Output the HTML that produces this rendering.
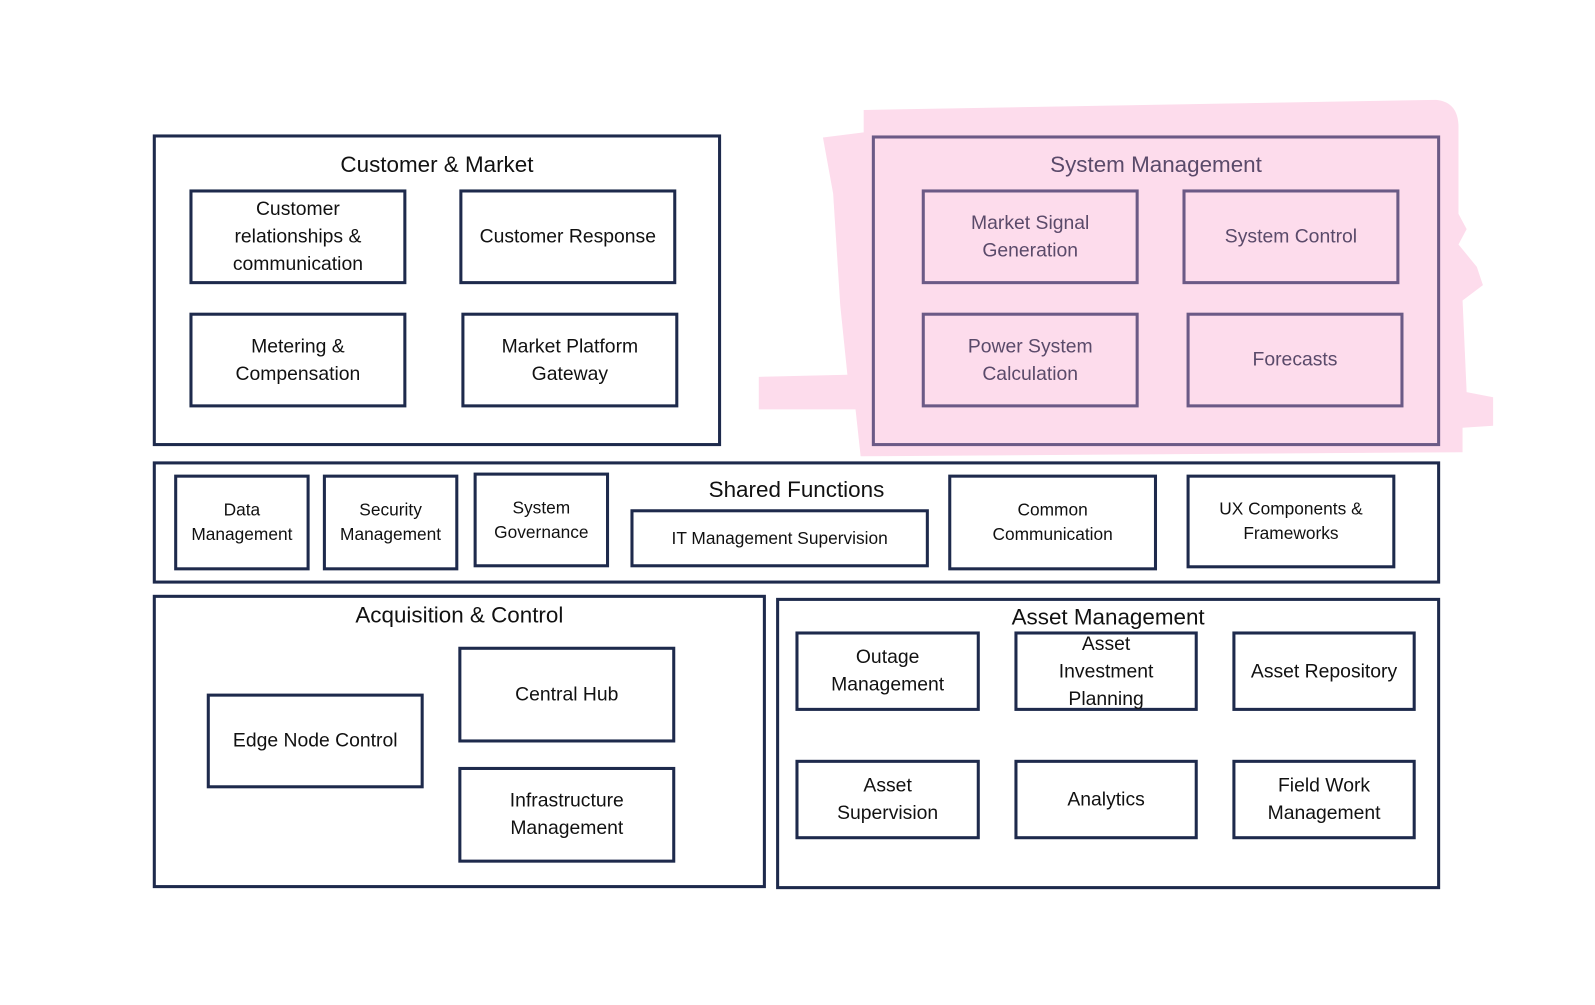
<!DOCTYPE html>
<html><head><meta charset="utf-8"><style>
body{margin:0;width:1595px;height:1005px;background:#fff;position:relative;overflow:hidden;font-family:"Liberation Sans",sans-serif;}
#w{position:absolute;left:0;top:0;width:1560px;height:983px;transform:scale(1.0185);transform-origin:0 0;}
.b{position:absolute;box-sizing:border-box;border:3px solid #1e2a4c;display:flex;align-items:center;justify-content:center;text-align:center;color:#111;font-size:19px;line-height:27px;}
.p{border-color:#6b5a86;color:#5a4a6a;}
.s{font-size:17px;line-height:24px;}
.t{position:absolute;font-size:22px;color:#111;transform:translateX(-50%);white-space:nowrap;}
</style></head><body><div id="w">
<svg width="1560" height="983" style="position:absolute;left:0;top:0">
<path d="M848,108 L1410,98 Q1432,100 1432,125 L1432,210 L1440,225 L1432,240 L1450,262 L1456,280 L1436,295 L1440,385 L1466,390 L1466,418 L1436,420 L1436,444 L845,448 L840,402 L745,402 L745,370 L832,368 L825,300 L818,190 L808,135 L848,130 Z" fill="#fddcec"/>
</svg>
<div class="b" style="left:150px;top:132px;width:558px;height:306px"></div>
<div class="t" style="left:429px;top:149px">Customer &amp; Market</div>
<div class="b" style="left:186px;top:186px;width:213px;height:93px">Customer<br>relationships &amp;<br>communication</div>
<div class="b" style="left:451px;top:186px;width:213px;height:93px">Customer Response</div>
<div class="b" style="left:186px;top:307px;width:213px;height:93px">Metering &amp;<br>Compensation</div>
<div class="b" style="left:453px;top:307px;width:213px;height:93px">Market Platform<br>Gateway</div>

<div class="b p" style="left:856px;top:133px;width:558px;height:305px"></div>
<div class="t" style="left:1135px;top:149px;color:#5a4a6a">System Management</div>
<div class="b p" style="left:905px;top:186px;width:213px;height:93px">Market Signal<br>Generation</div>
<div class="b p" style="left:1161px;top:186px;width:213px;height:93px">System Control</div>
<div class="b p" style="left:905px;top:307px;width:213px;height:93px">Power System<br>Calculation</div>
<div class="b p" style="left:1165px;top:307px;width:213px;height:93px">Forecasts</div>

<div class="b" style="left:150px;top:453px;width:1264px;height:120px"></div>
<div class="t" style="left:782px;top:468px">Shared Functions</div>
<div class="b s" style="left:171px;top:466px;width:133px;height:94px">Data<br>Management</div>
<div class="b s" style="left:317px;top:466px;width:133px;height:94px">Security<br>Management</div>
<div class="b s" style="left:465px;top:464px;width:133px;height:93px">System<br>Governance</div>
<div class="b s" style="left:619px;top:500px;width:293px;height:57px">IT Management Supervision</div>
<div class="b s" style="left:931px;top:466px;width:205px;height:94px">Common<br>Communication</div>
<div class="b s" style="left:1165px;top:466px;width:205px;height:92px">UX Components &amp;<br>Frameworks</div>

<div class="b" style="left:150px;top:584px;width:602px;height:288px"></div>
<div class="t" style="left:451px;top:591px">Acquisition &amp; Control</div>
<div class="b" style="left:203px;top:681px;width:213px;height:93px">Edge Node Control</div>
<div class="b" style="left:450px;top:635px;width:213px;height:94px">Central Hub</div>
<div class="b" style="left:450px;top:753px;width:213px;height:94px">Infrastructure<br>Management</div>

<div class="b" style="left:762px;top:587px;width:652px;height:286px"></div>
<div class="t" style="left:1088px;top:593px">Asset Management</div>
<div class="b" style="left:781px;top:620px;width:181px;height:78px">Outage<br>Management</div>
<div class="b" style="left:996px;top:620px;width:180px;height:78px">Asset<br>Investment<br>Planning</div>
<div class="b" style="left:1210px;top:620px;width:180px;height:78px">Asset Repository</div>
<div class="b" style="left:781px;top:746px;width:181px;height:78px">Asset<br>Supervision</div>
<div class="b" style="left:996px;top:746px;width:180px;height:78px">Analytics</div>
<div class="b" style="left:1210px;top:746px;width:180px;height:78px">Field Work<br>Management</div>
</div></body></html>
